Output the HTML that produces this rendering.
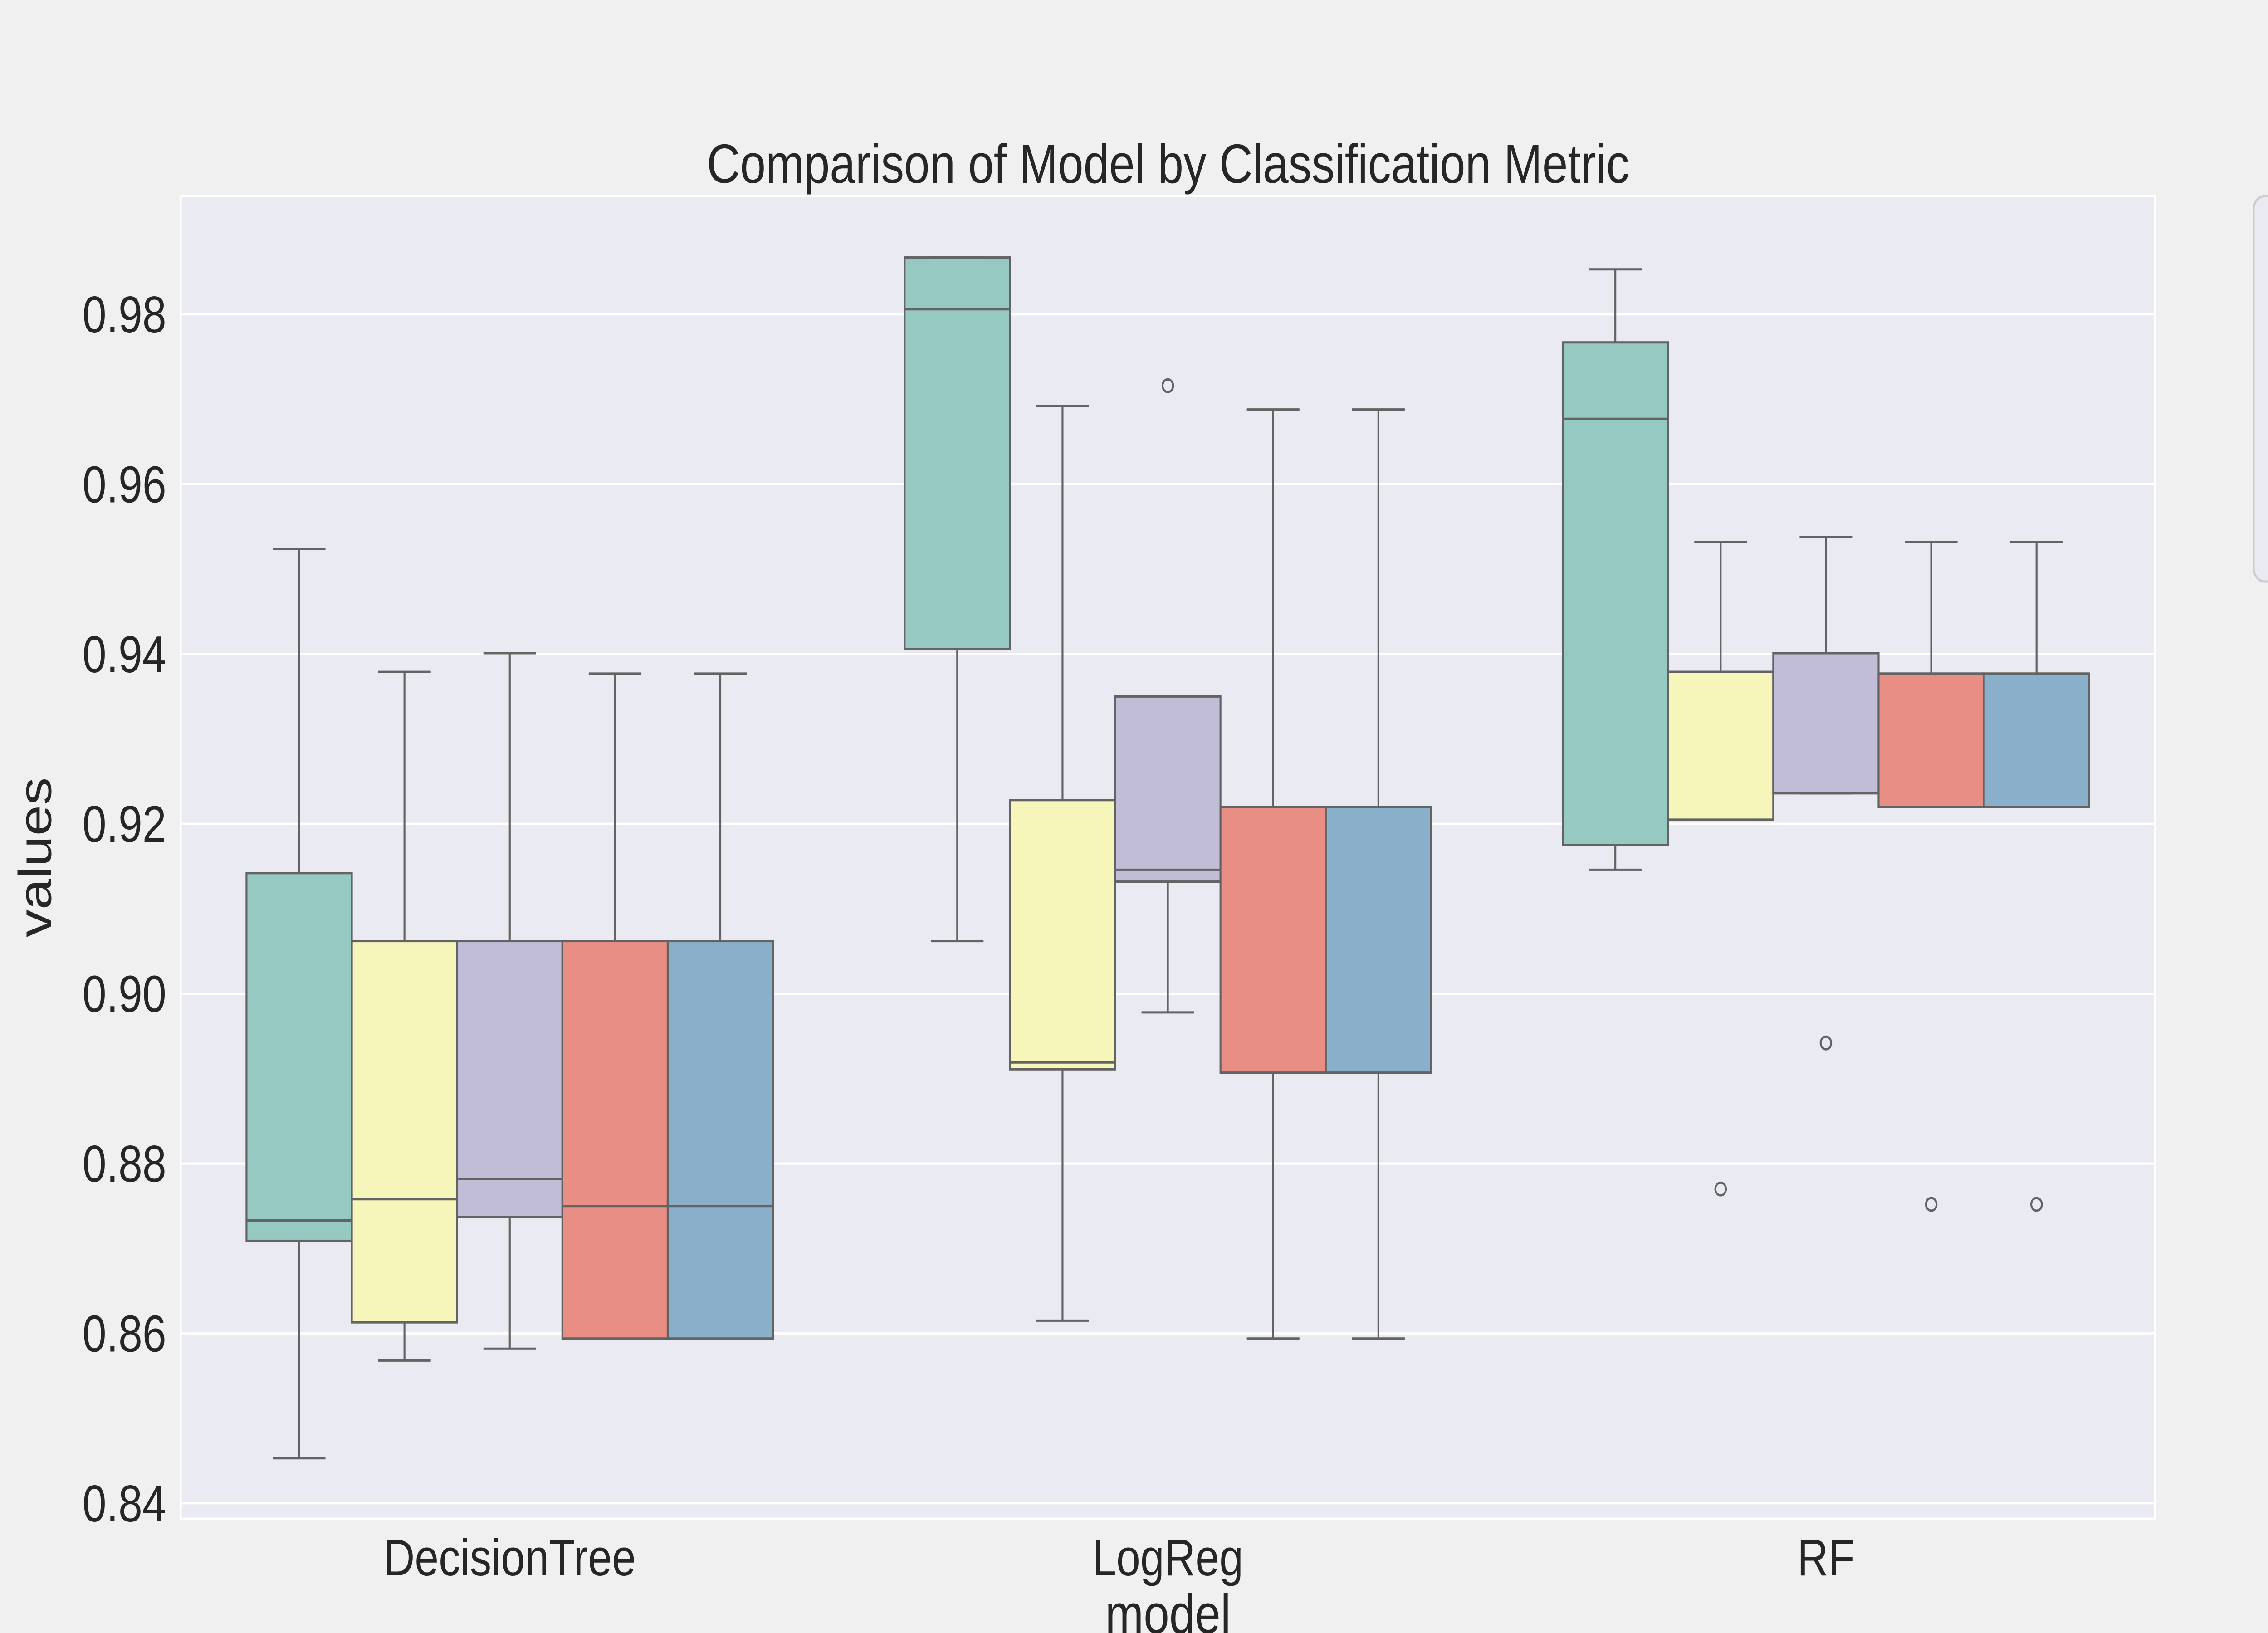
<!DOCTYPE html>
<html><head><meta charset="utf-8">
<style>html,body{margin:0;padding:0;background:#f0f0f0;overflow:hidden;width:100vw;height:100vh;}svg{display:block;width:100vw;height:100vh;font-family:"Liberation Sans",sans-serif;}</style>
</head><body>
<svg id="chart" viewBox="0 0 6000 3600" preserveAspectRatio="none" xmlns="http://www.w3.org/2000/svg">
<rect x="0" y="0" width="6000" height="3600" fill="#f0f0f0"/>
<rect x="478" y="432" width="5223" height="2916" fill="#eaeaf2" stroke="#ffffff" stroke-width="5"/>
<g id="grid"></g>
<g id="boxes"></g>
<g id="yticks"></g>
<g id="xticks"></g>
<text x="3090" y="403" font-size="122" fill="#262626" text-anchor="middle">Comparison of Model by Classification Metric</text>
<text x="0" y="0" font-size="122" fill="#262626" text-anchor="middle" transform="translate(135,1890) rotate(-90)">values</text>
<text x="3090" y="3600" font-size="122" fill="#262626" text-anchor="middle">model</text>
<rect x="5962" y="432" width="200" height="850" rx="30" fill="#eaeaf2" stroke="#cccccc" stroke-width="5"/>
</svg>
<script>
const categories = ["DecisionTree", "LogReg", "RF"];
const colors = ["#96c9c1", "#f6f6bb", "#c1bdd6", "#e98e85", "#8aafca"];
// per hue series: [low, q1, median, q3, high] for each category
const series0 = [[0.8453,0.8709,0.8733,0.9142,0.9524],[0.9062,0.9406,0.9806,0.9867,0.9867],[0.9146,0.9175,0.9677,0.9767,0.9853]];
const series1 = [[0.8568,0.8613,0.8758,0.9062,0.9379],[0.8615,0.8911,0.8919,0.9228,0.9692],[0.9205,0.9205,0.9379,0.9379,0.9532]];
const series2 = [[0.8582,0.8737,0.8782,0.9062,0.9401],[0.8978,0.9132,0.9146,0.9350,0.9350],[0.9236,0.9236,0.9401,0.9401,0.9538]];
const series3 = [[0.8594,0.8594,0.8750,0.9062,0.9377],[0.8594,0.8907,0.8907,0.9220,0.9688],[0.9220,0.9220,0.9377,0.9377,0.9532]];
const series4 = [[0.8594,0.8594,0.8750,0.9062,0.9377],[0.8594,0.8907,0.8907,0.9220,0.9688],[0.9220,0.9220,0.9377,0.9377,0.9532]];
const outliers0 = [[],[],[]];
const outliers1 = [[],[],[0.8770]];
const outliers2 = [[],[0.9716],[0.8942]];
const outliers3 = [[],[],[0.8752]];
const outliers4 = [[],[],[0.8752]];
const yTicks = [0.84,0.86,0.88,0.90,0.92,0.94,0.96,0.98];
const yTickLabels = ["0.84","0.86","0.88","0.90","0.92","0.94","0.96","0.98"];

const allSeries=[series0,series1,series2,series3,series4];
const allOut=[outliers0,outliers1,outliers2,outliers3,outliers4];
const X0=478,X1=5701,Y0=432,Y1=3348, yMin=0.83818, yMax=0.99394;
function xs(v){return X0+(v+0.5)/categories.length*(X1-X0);}
function ys(v){return Y1-(v-yMin)/(yMax-yMin)*(Y1-Y0);}
const NS="http://www.w3.org/2000/svg";
function mk(tag,attrs,parent){const e=document.createElementNS(NS,tag);for(const k in attrs)e.setAttribute(k,attrs[k]);parent.appendChild(e);return e;}
const grid=document.getElementById('grid'),yt=document.getElementById('yticks'),xt=document.getElementById('xticks'),bx=document.getElementById('boxes');
yTicks.forEach((t,i)=>{
  const l=mk('line',{x1:X0,x2:X1,y1:ys(t),y2:ys(t),stroke:'#ffffff','stroke-width':5},grid);
  
  
  const tx=mk('text',{x:440,y:ys(t)+40,'font-size':114,fill:'#262626','text-anchor':'end'},yt);
  tx.textContent=yTickLabels[i];
  
  
});
categories.forEach((c,i)=>{
  const tx=mk('text',{x:xs(i),y:3473,'font-size':114,fill:'#262626','text-anchor':'middle'},xt);
  tx.textContent=c;
  
  
});
const unit=xs(1)-xs(0), bw=unit*0.8/5, lc='#636363', lw=5;
categories.forEach((c,ci)=>{
  allSeries.forEach((s,si)=>{
    const d=s[ci], left=xs(ci)-unit*0.4+si*bw, cx=left+bw/2;
    const g=mk('g',{},bx);
    
    
    mk('line',{x1:cx,x2:cx,y1:ys(d[0]),y2:ys(d[1]),stroke:lc,'stroke-width':lw},g);
    mk('line',{x1:cx,x2:cx,y1:ys(d[3]),y2:ys(d[4]),stroke:lc,'stroke-width':lw},g);
    mk('line',{x1:cx-bw/4,x2:cx+bw/4,y1:ys(d[0]),y2:ys(d[0]),stroke:lc,'stroke-width':lw},g);
    mk('line',{x1:cx-bw/4,x2:cx+bw/4,y1:ys(d[4]),y2:ys(d[4]),stroke:lc,'stroke-width':lw},g);
    mk('rect',{x:left,y:ys(d[3]),width:bw,height:Math.max(ys(d[1])-ys(d[3]),0.5),fill:colors[si],stroke:lc,'stroke-width':lw},g);
    mk('line',{x1:left,x2:left+bw,y1:ys(d[2]),y2:ys(d[2]),stroke:lc,'stroke-width':lw},g);
    allOut[si][ci].forEach(o=>{
      const p=mk('circle',{cx:cx,cy:ys(o),r:14,fill:'none',stroke:lc,'stroke-width':lw},g);
      
      
    });
  });
});
</script>
</body></html>
